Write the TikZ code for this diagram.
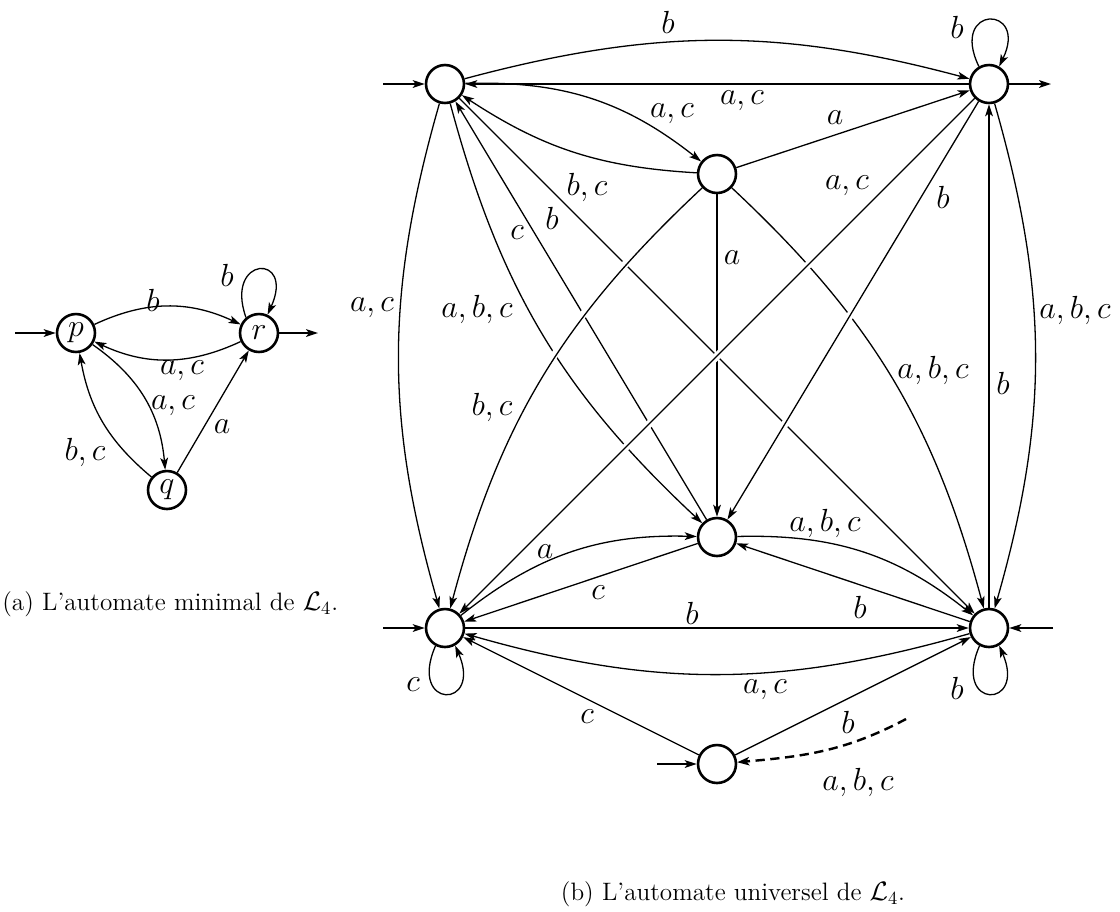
\documentclass[tikz,border=0pt]{standalone}
\usetikzlibrary{arrows.meta}
\begin{document}
\begin{tikzpicture}[x=0.54pt,y=-0.54pt,
  st/.style={circle,draw,line width=1.4pt,minimum size=20.5pt,inner sep=0pt,font=\fontsize{16.5}{18}\selectfont},
  tr/.style={line width=0.7pt,-{Stealth[length=6.5pt,width=4.2pt,inset=1.6pt]}},
  halo/.style={preaction={draw=white,line width=4pt,-,shorten >=14pt,shorten <=14pt}},
  dsh/.style={line width=1.3pt,dash pattern=on 5pt off 3pt,-{Stealth[length=6.5pt,width=4.5pt,inset=1.6pt]}},
  lbl/.style={inner sep=0pt,font=\fontsize{16.5}{18}\selectfont},
  lblc/.style={lbl,yshift=-1.6pt},
  captxt/.style={inner sep=0pt,font=\fontsize{13.6}{16}\selectfont}]
\useasboundingbox (0,0) rectangle (1120,911);

% ---------- (a) minimal automaton ----------
\node[st] (p) at (76,333) {$p$};
\node[st] (r) at (259,333) {$r$};
\node[st] (q) at (167,490) {$q$};
\coordinate (pin) at (15,333);
\coordinate (rout) at (318,333);
\draw[tr] (pin) -- (p);
\draw[tr] (r) -- (rout);
\draw[tr] (p) to[bend left=25] (r);
\draw[tr] (r) to[bend left=25] (p);
\draw[tr] (p) to[bend left=25] (q);
\draw[tr] (q) to[bend left=20] (p);
\draw[tr] (q) -- (r);
\draw[tr] (r.130) .. controls +(-22,-62) and +(28,-62) .. (r.65);
\node[lbl] (la1) at (153,300) {$b$};
\node[lblc] (la2) at (182,368) {$a,c$};
\node[lblc] (la3) at (173,403) {$a,c$};
\node[lblc] (la4) at (85,450) {$b,c$};
\node[lbl] (la5) at (222,427) {$a$};
\node[lbl] (la6) at (227,275) {$b$};
\node[captxt,anchor=base west] (capa) at (2,610) {(a) L'automate minimal de $\mathcal{L}_4$.};

% ---------- (b) universal automaton ----------
\node[st] (A) at (445,84) {};
\node[st] (B) at (989,84) {};
\node[st] (M) at (717,174) {};
\node[st] (C) at (717,537) {};
\node[st] (D) at (445,628) {};
\node[st] (E) at (989,628) {};
\node[st] (F) at (717,764) {};
\coordinate (Ain) at (383,84);
\coordinate (Bout) at (1051,84);
\coordinate (Din) at (383,628);
\coordinate (Ein) at (1053,628);
\coordinate (Fin) at (657,764);
\coordinate (dfs) at (906,719);
\draw[tr] (Ain) -- (A);
\draw[tr] (B) -- (Bout);
\draw[tr] (Din) -- (D);
\draw[tr] (Ein) -- (E);
\draw[tr] (Fin) -- (F);

\draw[tr] (A) to[bend left=15] (B);
\draw[tr] (B) -- (A);
\draw[tr] (A) to[bend left=20] (M);
\draw[tr] (M) to[bend left=15] (A);
\draw[tr] (M) -- (B);
\draw[tr] (A) to[bend right=16] (D);
\draw[tr] (B) to[bend left=16] (E);
\draw[tr] (E) -- (B);
\draw[tr] (A) to[bend right=16] (C);
\draw[tr] (C) -- (A);
\draw[tr] (A) -- (E);
\draw[tr] (M) -- (C);
\draw[tr] (M) to[bend left=16] (E);
\draw[tr] (D) to[bend left=20] (C);
\draw[tr] (C) -- (D);
\draw[tr] (C) to[bend left=20] (E);
\draw[tr] (E) -- (C);
\draw[tr] (D) -- (E);
\draw[tr] (E) to[bend left=16] (D);
\draw[tr] (F) -- (D);
\draw[tr] (F) -- (E);
\draw[tr,halo] (M) to[bend right=16] (D);
\draw[tr,halo] (B) -- (C);
\draw[tr,halo] (B) -- (D);
\draw[tr] (B.120) .. controls +(-30,-62) and +(30,-62) .. (B.60);
\draw[tr] (D.242) .. controls +(-28,64) and +(28,64) .. (D.300);
\draw[tr] (E.242) .. controls +(-28,64) and +(28,64) .. (E.300);
\draw[dsh] (dfs) to[out=208,in=5] (F);

\node[lbl] (l1) at (668,22) {$b$};
\node[lblc] (l2) at (742,98) {$a,c$};
\node[lblc] (l3) at (672,111) {$a,c$};
\node[lblc] (l4) at (587,185) {$b,c$};
\node[lbl] (l5) at (552,218) {$b$};
\node[lbl] (l6) at (517,233) {$c$};
\node[lbl] (l7) at (835,118) {$a$};
\node[lblc] (l8) at (847,183) {$a,c$};
\node[lbl] (l9) at (943,197) {$b$};
\node[lbl] (l10) at (732,258) {$a$};
\node[lbl] (l11) at (957,27) {$b$};
\node[lblc] (l12) at (372,305) {$a,c$};
\node[lblc] (l13) at (477,307) {$a,b,c$};
\node[lblc] (l14) at (492,405) {$b,c$};
\node[lblc] (l15) at (933,368) {$a,b,c$};
\node[lbl] (l16) at (1003,383) {$b$};
\node[lblc] (l17) at (1075,308) {$a,b,c$};
\node[lblc] (l18) at (825,521) {$a,b,c$};
\node[lbl] (l19) at (545,552) {$a$};
\node[lbl] (l20) at (598,593) {$c$};
\node[lbl] (l21) at (692,613) {$b$};
\node[lbl] (l22) at (860,607) {$b$};
\node[lblc] (l23) at (765,687) {$a,c$};
\node[lbl] (l24) at (413,685) {$c$};
\node[lbl] (l25) at (957,688) {$b$};
\node[lbl] (l26) at (587,717) {$c$};
\node[lbl] (l27) at (848,722) {$b$};
\node[lblc] (l28) at (858,780) {$a,b,c$};
\node[captxt,anchor=base] (capb) at (733,900) {(b) L'automate universel de $\mathcal{L}_4$.};
\end{tikzpicture}
\end{document}
